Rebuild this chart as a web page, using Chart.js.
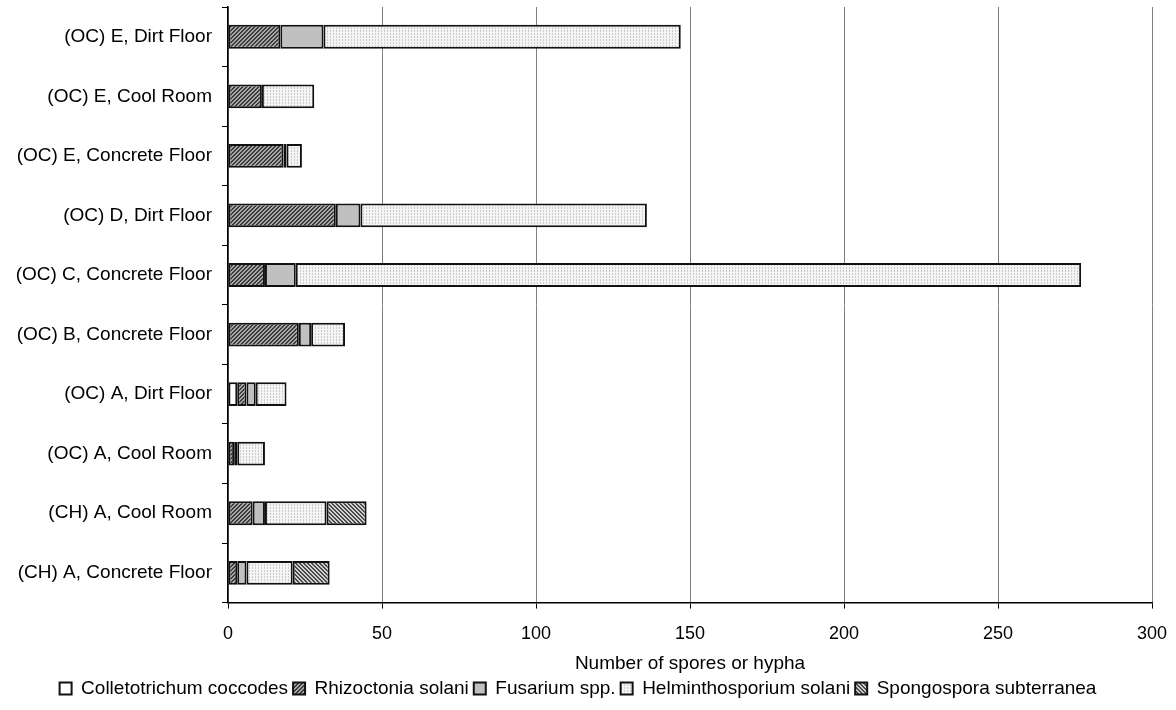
<!DOCTYPE html>
<html>
<head>
<meta charset="utf-8">
<script src="https://cdn.jsdelivr.net/npm/chart.js@4/dist/chart.umd.min.js"></script>
<style>
html,body{margin:0;padding:0;background:#fff;}
#wrap{width:1176px;height:710px;}
</style>
</head>
<body>
<div id="wrap"><canvas id="c" width="1176" height="710"></canvas></div>
<script>
const categories = [
  "(OC) E, Dirt Floor",
  "(OC) E, Cool Room",
  "(OC) E, Concrete Floor",
  "(OC) D, Dirt Floor",
  "(OC) C, Concrete Floor",
  "(OC) B, Concrete Floor",
  "(OC) A, Dirt Floor",
  "(OC) A, Cool Room",
  "(CH) A, Cool Room",
  "(CH) A, Concrete Floor"
];
const colletotrichum = [0, 0, 0, 0, 0, 0, 3, 0, 0, 0];
const rhizoctonia    = [17, 11, 18, 35, 12, 23, 3, 2, 8, 3];
const fusarium       = [14, 0, 1, 8, 10, 4, 3, 1, 4, 3];
const helminthosporium = [116, 17, 5, 93, 255, 11, 10, 9, 20, 15];
const spongospora    = [0, 0, 0, 0, 0, 0, 0, 0, 13, 12];
const seriesNames = ["Colletotrichum coccodes", "Rhizoctonia solani", "Fusarium spp.", "Helminthosporium solani", "Spongospora subterranea"];
const xTicks = [0, 50, 100, 150, 200, 250, 300];

function makePattern(size, bg, fg, fn) {
  const c = document.createElement('canvas');
  c.width = size; c.height = size;
  const g = c.getContext('2d');
  g.fillStyle = bg; g.fillRect(0, 0, size, size);
  g.fillStyle = fg;
  for (let y = 0; y < size; y++) for (let x = 0; x < size; x++) if (fn(x, y)) g.fillRect(x, y, 1, 1);
  return document.getElementById('c').getContext('2d').createPattern(c, 'repeat');
}
const pRhizo = makePattern(4, '#a8a8a8', '#3c3c3c', (x, y) => ((x + y) % 4) < 2);
const pSpong = makePattern(4, '#d0d0d0', '#4a4a4a', (x, y) => ((x - y + 8) % 4) < 2);
const pHelm = makePattern(3, '#f4f4f4', '#cccccc', (x, y) => x === 0 && y !== 2);

const fills = ['#ffffff', pRhizo, '#c0c0c0', pHelm, pSpong];
const dataArrays = [colletotrichum, rhizoctonia, fusarium, helminthosporium, spongospora];

const datasets = seriesNames.map((n, i) => ({
  label: n,
  data: dataArrays[i],
  backgroundColor: fills[i],
  borderColor: '#111111',
  borderWidth: 2,
  borderSkipped: false,
  barPercentage: 0.4,
  categoryPercentage: 1.0
}));

Chart.defaults.font.family = '"Liberation Sans", Arial, sans-serif';
Chart.defaults.color = '#000';

new Chart(document.getElementById('c'), {
  type: 'bar',
  data: { labels: categories, datasets },
  options: {
    responsive: false,
    animation: false,
    indexAxis: 'y',
    layout: { padding: { left: 4, right: 24, top: 7, bottom: 2 } },
    scales: {
      x: {
        stacked: true,
        min: 0, max: 300,
        afterBuildTicks: (s) => { s.ticks = xTicks.map(v => ({ value: v })); },
        afterFit: (s) => { s.paddingLeft = 0; s.paddingRight = 0; },
        grid: { color: '#808080', lineWidth: 1, tickLength: 6, tickColor: '#000', drawTicks: true },
        border: { color: '#000', width: 1.5 },
        ticks: { font: { size: 18 }, padding: 15, color: '#000' },
        title: { display: true, text: 'Number of spores or hypha', font: { size: 19 }, padding: { top: -8, bottom: -1 }, color: '#000' }
      },
      y: {
        stacked: true,
        afterFit: (s) => { s.width = 224; s.paddingTop = 0; s.paddingBottom = 0; },
        grid: { display: true, drawOnChartArea: false, offset: true, tickLength: 6, tickColor: '#000', lineWidth: 1 },
        border: { color: '#000', width: 1.5 },
        ticks: { font: { size: 19 }, padding: 10, color: '#000' }
      }
    },
    plugins: {
      legend: {
        position: 'bottom',
        labels: { boxWidth: 12, boxHeight: 12, padding: 5, font: { size: 19 }, color: '#000' }
      },
      tooltip: { enabled: false }
    }
  }
});
</script>
</body>
</html>
